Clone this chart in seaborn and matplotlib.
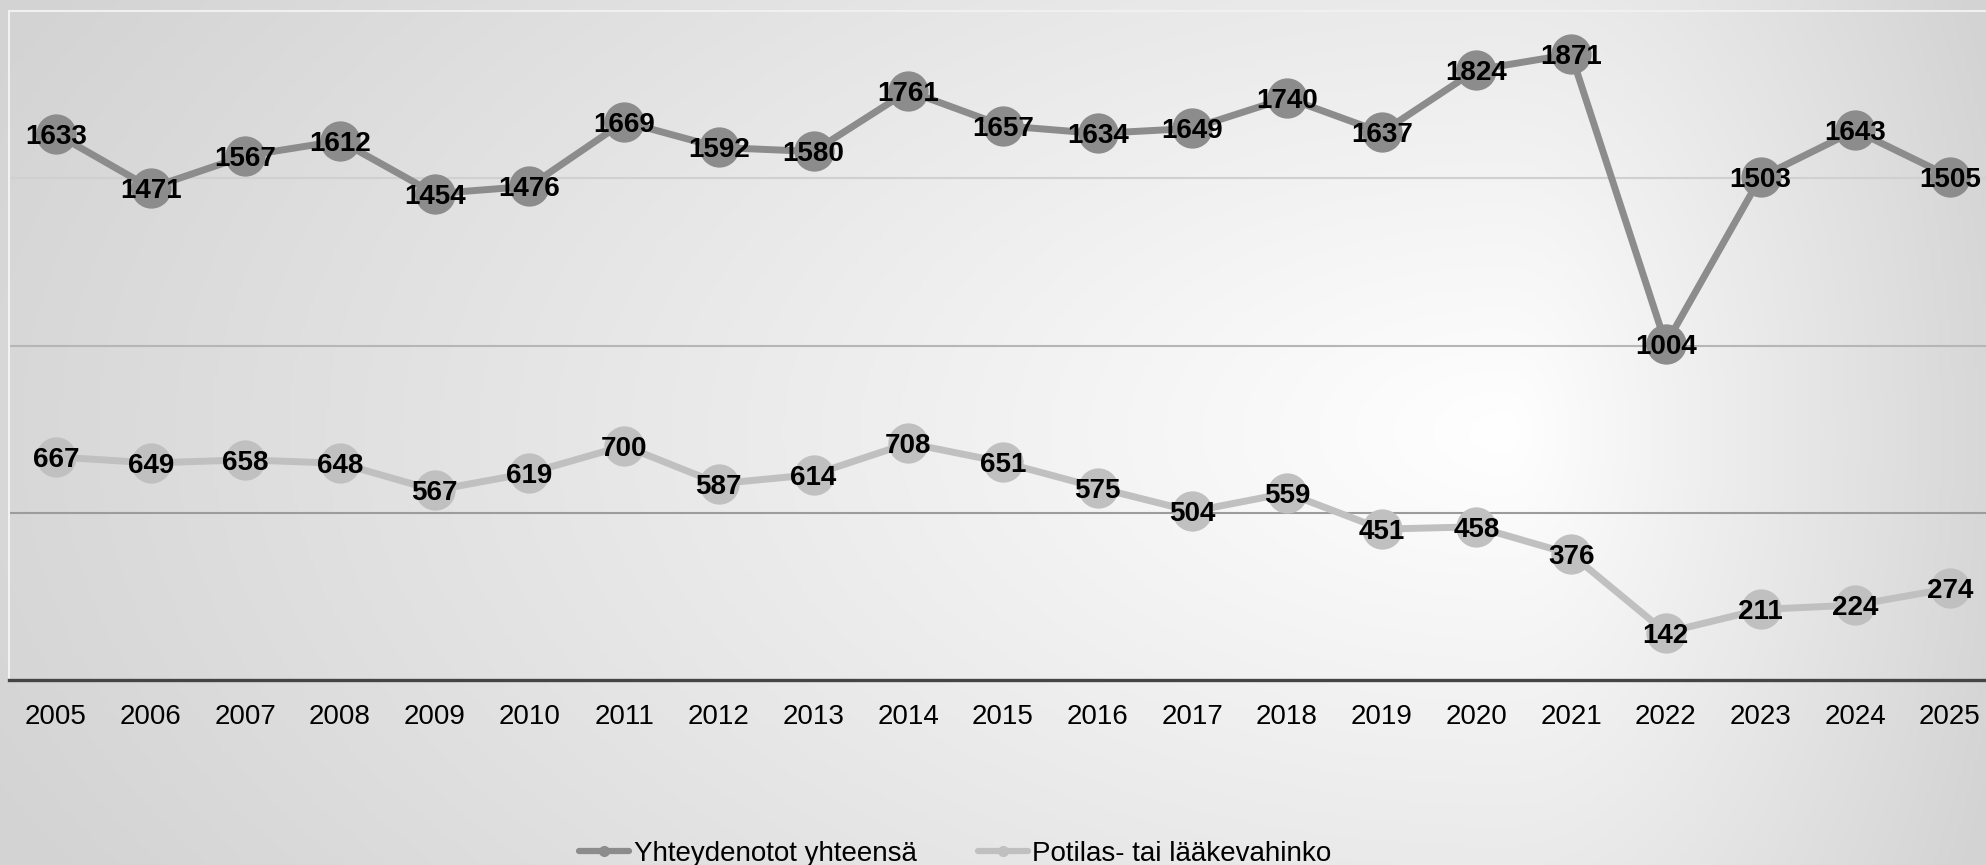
import numpy as np
import pandas as pd
import matplotlib
matplotlib.use("Agg")
import matplotlib.pyplot as plt
from matplotlib.lines import Line2D
import seaborn as sns

years = [str(y) for y in range(2005, 2026)]
total = [1633, 1471, 1567, 1612, 1454, 1476, 1669, 1592, 1580, 1761, 1657,
         1634, 1649, 1740, 1637, 1824, 1871, 1004, 1503, 1643, 1505]
injury = [667, 649, 658, 648, 567, 619, 700, 587, 614, 708, 651,
          575, 504, 559, 451, 458, 376, 142, 211, 224, 274]
series_names = ["Yhteydenotot yhteensä", "Potilas- tai lääkevahinko"]
colors = ["#8c8c8c", "#c0c0c0"]

sns.set_theme(style="white")
plt.rcParams['font.family'] = ['Liberation Sans', 'DejaVu Sans']
plt.rcParams['text.color'] = 'black'

W, H = 1986, 865
fig = plt.figure(figsize=(W / 100, H / 100), dpi=100)

# background radial gradient
bg = fig.add_axes([0, 0, 1, 1], zorder=-10)
xx, yy = np.meshgrid(np.linspace(0, 1, 500), np.linspace(0, 1, 250))
cx, cy = 0.76, 0.50
dx = np.where(xx < cx, (xx - cx) / cx, (xx - cx) / (1 - cx))
dy = (yy - cy) / 0.95
d = np.sqrt(dx ** 2 + dy ** 2)
val = 1.0 - 0.155 * np.clip(d, 0, 1.1)
img = np.dstack([val, val, val])
bg.imshow(img, extent=[0, 1, 0, 1], aspect='auto', origin='upper')
bg.set_axis_off()

ax_left = 8.6 / W
ax_w = 21 * 94.7 / W
ax = fig.add_axes([ax_left, (H - 680) / H, ax_w, 669 / H])
ax.patch.set_alpha(0)

df = pd.DataFrame({
    "x": list(range(len(years))) * 2,
    "value": total + injury,
    "series": [series_names[0]] * len(years) + [series_names[1]] * len(years),
})

sns.lineplot(data=df, x="x", y="value", hue="series", palette=colors,
             marker="o", markersize=29, markeredgewidth=0, linewidth=5,
             ax=ax, legend=False, sort=False)

for vals in (total, injury):
    for i, v in enumerate(vals):
        ax.annotate(str(v), (i, v), xytext=(0, -7.2), textcoords="offset points",
                    ha="center", va="baseline", fontsize=20,
                    fontweight="bold", color="black", zorder=10)

ax.set_xlim(-0.5, len(years) - 0.5)
ax.set_ylim(0, 2000)
ax.set_xticks(range(len(years)))
ax.set_xticklabels(years, fontsize=20, color="black")
ax.set_yticks([])
ax.set_xlabel("")
ax.set_ylabel("")
ax.tick_params(axis="x", length=0, pad=17)

grid_colors = {500: "#9c9c9c", 1000: "#b6b6b6", 1500: "#d0d0d0"}
for yv, c in grid_colors.items():
    ax.axhline(yv, color=c, linewidth=1.5, zorder=0)

ax.spines["bottom"].set_color("#454545")
ax.spines["bottom"].set_linewidth(2.4)
ax.spines["left"].set_color("#f2f2f2")
ax.spines["left"].set_linewidth(1.5)
ax.spines["top"].set_color("#f0f0f0")
ax.spines["top"].set_linewidth(1.5)
ax.spines["right"].set_visible(False)

handles = [Line2D([0], [0], color=c, lw=4.5, marker="o", markersize=8,
                  markeredgewidth=0) for c in colors]
fig.legend(handles, series_names, loc="center", bbox_to_anchor=(0.481, 0.013),
           ncol=2, frameon=False, fontsize=20, handlelength=1.8,
           handletextpad=0.15, columnspacing=2.2, labelcolor="black")

fig.savefig("out.png", dpi=100)
